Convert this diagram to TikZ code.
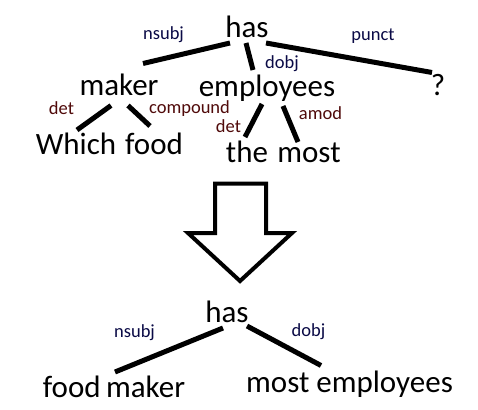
\documentclass[tikz,border=0pt]{standalone}
\usepackage{fontspec}
\setmainfont{Carlito}
\definecolor{relred}{RGB}{80,10,10}
\definecolor{relblue}{RGB}{10,10,70}
\tikzset{
  word/.style={inner sep=0pt, anchor=base, font=\fontsize{31}{31}\selectfont},
  rel/.style={inner sep=0pt, anchor=base, font=\fontsize{18.5}{18.5}\selectfont},
  relA/.style={rel, text=relblue},
  relB/.style={rel, text=relred},
  dep/.style={line width=5pt},
  bigarrow/.style={line width=4pt, line join=miter}
}
\begin{document}
\begin{tikzpicture}[x=1pt,y=-1pt]
\useasboundingbox (0,0) rectangle (478,409);
\fill[white] (0,0) rectangle (478,409);
% top tree
\node[word] (has1) at (247,38) {has};
\node[word] (maker) at (119,95.5) {maker};
\node[word] (employees) at (267,96) {employees};
\node[word] (q) at (438,95.5) {?};
\node[word] (which) at (76,154) {Which};
\node[word] (food) at (154,154) {food};
\node[word] (the) at (247,162) {the};
\node[word] (most) at (309,162) {most};
\node[relA] (l1) at (163.5,40) {nsubj};
\node[relA] (l2) at (282,68.5) {dobj};
\node[relA] (l3) at (373,40.5) {punct};
\node[relB] (l4) at (61.5,114.5) {det};
\node[relB] (l5) at (189.5,113) {compound};
\node[relB] (l6) at (228.5,132) {det};
\node[relB] (l7) at (320.5,119) {amod};
\draw[dep] ([shift={(-17,5)}]has1.base) -- ([shift={(24,-32)}]maker.base);
\draw[dep] ([shift={(-1,5)}]has1.base) -- ([shift={(-14,-26)}]employees.base);
\draw[dep] ([shift={(19,5)}]has1.base) -- ([shift={(-6,-23)}]q.base);
\draw[dep] ([shift={(-8,10)}]maker.base) -- ([shift={(1,-24)}]which.base);
\draw[dep] ([shift={(9,10)}]maker.base) -- ([shift={(-4,-28)}]food.base);
\draw[dep] ([shift={(-5,8)}]employees.base) -- ([shift={(-2,-25)}]the.base);
\draw[dep] ([shift={(16,10)}]employees.base) -- ([shift={(-11,-20)}]most.base);
% arrow
\draw[bigarrow] (215,183.5) -- (266,183.5) -- (266,233) -- (292,233) -- (240,281) -- (188,233) -- (215,233) -- cycle;
% bottom tree
\node[word] (has2) at (227,322) {has};
\node[word] (fm) at (114,397) {food\kern-1.5pt\ maker};
\node[word] (me) at (349.5,392.5) {most employees};
\node[relA] (l8) at (134.5,337) {nsubj};
\node[relA] (l9) at (308.5,336) {dobj};
\draw[dep] ([shift={(-4,6)}]has2.base) -- ([shift={(1,-25)}]fm.base);
\draw[dep] ([shift={(20,4)}]has2.base) -- ([shift={(-28.5,-27)}]me.base);
\end{tikzpicture}
\end{document}
